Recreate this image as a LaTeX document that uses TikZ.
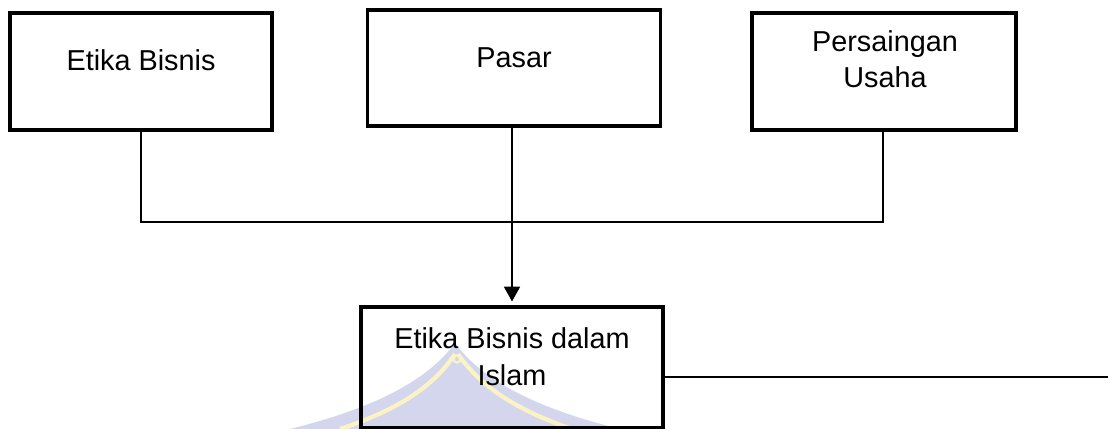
\documentclass[tikz,border=0pt]{standalone}
\usepackage{fontspec}
\setmainfont{Liberation Sans}
\usetikzlibrary{arrows.meta}
\definecolor{domefill}{RGB}{212,214,237}
\definecolor{domeline}{RGB}{252,243,196}
\tikzset{
  boxshape/.style={draw=black, line width=1.8pt, rectangle, inner sep=0pt},
  lbl/.style={font=\fontsize{16.4}{21}\selectfont, align=center, inner sep=0pt, anchor=base},
  wire/.style={draw=black, line width=1.35pt},
}
\begin{document}
\begin{tikzpicture}[x=0.02cm, y=-0.02cm]
\useasboundingbox (0,0) rectangle (1110,429);

% faint dome emblem in the lower part of the page
\fill[domefill] (455,343) .. controls (428,380) and (375,408) .. (290,429)
  -- (620,429) .. controls (535,408) and (482,380) .. (455,343) -- cycle;
\draw[domeline, line width=2.4pt] (455,354) .. controls (434,386) and (398,410) .. (340,429);
\draw[domeline, line width=2.4pt] (458,354) .. controls (480,386) and (516,410) .. (572,429);
\draw[domeline, line width=1.2pt] (457,359) circle (3.5);

% boxes
\node[boxshape, minimum width=262*0.02cm, minimum height=117*0.02cm] (b1) at (141,71.5) {};
\node[boxshape, minimum width=293*0.02cm, minimum height=116*0.02cm] (b2) at (514,68) {};
\node[boxshape, minimum width=264*0.02cm, minimum height=117*0.02cm] (b3) at (884,71.5) {};
\node[boxshape, minimum width=302*0.02cm, minimum height=121*0.02cm] (b4) at (512,367.5) {};

% labels (base anchor sits on the last line)
\node[lbl] (t1) at (141,70.5) {Etika Bisnis};
\node[lbl] (t2) at (514,68) {Pasar};
\node[lbl] (t3) at (885,88) {Persaingan\\Usaha};
\node[lbl] (t4) at (512,385) {Etika Bisnis dalam\\Islam};

% connectors
\coordinate (bus) at (883,222);
\coordinate (tail) at (1108,377);
\draw[wire] (b1.south) |- (bus) -- (bus |- b3.south);
\draw[wire, -{Triangle[length=8.5pt, width=9pt]}, shorten >=2.2pt] (b4.north |- b2.south) -- (b4.north);
\draw[wire, line width=1.5pt] (tail -| b4.east) -- (tail);
\end{tikzpicture}
\end{document}
